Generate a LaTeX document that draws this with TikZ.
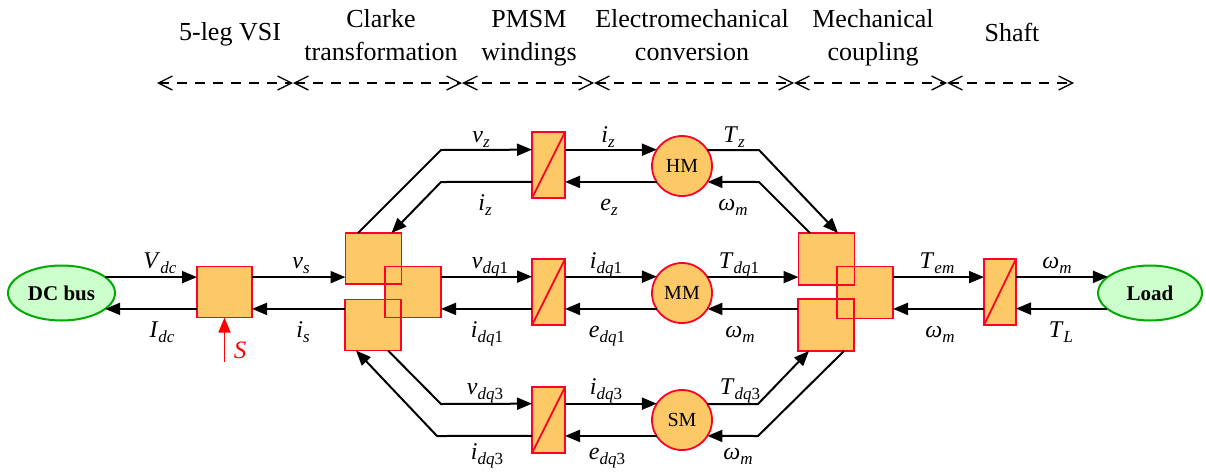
\documentclass[tikz,border=0pt]{standalone}
\usepackage{fontspec}
\setmainfont{Liberation Serif}
\usetikzlibrary{arrows.meta,shapes.geometric,calc}
\definecolor{boxfill}{RGB}{253,201,102}
\definecolor{boxred}{RGB}{255,0,40}
\definecolor{ellfill}{RGB}{204,255,204}
\definecolor{ellgreen}{RGB}{0,170,0}
\newcommand\sbs[1]{\raisebox{-5pt}{\fontsize{17}{17}\selectfont #1}}
\newcommand\lab[2]{\textit{#1}\sbs{#2}}
\begin{document}
\begin{tikzpicture}[x=1pt,y=-1pt,
  arr/.style={line width=2pt,-{Triangle[length=15pt,width=12pt]}},
  sarr/.style={line width=1.6pt,red,-{Triangle[length=15pt,width=12pt]}},
  hdr/.style={line width=1.3pt,dash pattern=on 10pt off 8pt,
    {Straight Barb[length=14pt,width=14pt,line width=1.3pt]}-{Straight Barb[length=14pt,width=14pt,line width=1.3pt]}},
  htxt/.style={font=\fontsize{26}{33}\selectfont,inner sep=0,align=center},
  lbl/.style={font=\fontsize{24}{26}\selectfont,inner sep=0,anchor=base},
  ell/.style={ellipse,draw=ellgreen,fill=ellfill,line width=2pt,minimum width=107pt,minimum height=55pt,inner sep=0,outer sep=0,font=\fontsize{21}{24}\selectfont\bfseries},
  blk/.style={rectangle,draw=boxred,fill=boxfill,line width=1.8pt,inner sep=0,outer sep=0},
  sq/.style={rectangle,fill=boxfill,inner sep=0,outer sep=0,minimum width=56pt,minimum height=51pt},
  sqline/.style={draw=boxred,line width=1.8pt},
  conv/.style={blk,minimum width=33pt,minimum height=66pt},
  mot/.style={circle,draw=boxred,fill=boxfill,line width=1.8pt,minimum size=60pt,inner sep=0,outer sep=0,font=\fontsize{20}{24}\selectfont}]
\useasboundingbox (0,0) rectangle (1206,472);

% header
\coordinate (h0) at (157,83);
\coordinate (h1) at (293,83);
\coordinate (h2) at (462,83);
\coordinate (h3) at (594,83);
\coordinate (h4) at (794,83);
\coordinate (h5) at (947,83);
\coordinate (h6) at (1074,83);
\draw[hdr] (h0) -- (h1);
\draw[hdr] (h1) -- (h2);
\draw[hdr] (h2) -- (h3);
\draw[hdr] (h3) -- (h4);
\draw[hdr] (h4) -- (h5);
\draw[hdr] (h5) -- (h6);
\node[htxt] (t1) at (230,34) {5-leg VSI};
\node[htxt] (t2) at (381,35.5) {Clarke\\transformation};
\node[htxt] (t3) at (529,38) {PMSM\\windings};
\node[htxt] (t4) at (692,35.5) {Electromechanical\\conversion};
\node[htxt] (t5) at (873,38) {Mechanical\\coupling};
\node[htxt] (t6) at (1012,32) {Shaft};

% nodes
\node[ell] (dcbus) at (61.5,293) {DC bus};
\node[ell,minimum width=104pt] (load) at (1150,293) {Load};
\node[blk,minimum width=55pt,minimum height=51pt] (inv) at (224.5,292) {};

\node[sq] (c1) at (373.5,258.5) {};
\node[sq] (c2) at (413,292) {};
\node[sq] (c3) at (373,325) {};
\draw[sqline] (c1.south west) rectangle (c1.north east);
\draw[sqline] (c2.south west) rectangle (c2.north east);
\draw[sqline] (c3.south west) rectangle (c3.north east);

\node[sq,minimum height=52pt] (m1) at (826.5,259) {};
\node[sq,minimum height=52pt] (m2) at (865,292.5) {};
\node[sq,minimum height=52pt] (m3) at (826,325) {};
\draw[sqline] (m1.south west) rectangle (m1.north east);
\draw[sqline] (m2.south west) rectangle (m2.north east);
\draw[sqline] (m3.south west) rectangle (m3.north east);

\node[conv] (conv1) at (548.5,165) {};
\node[conv] (conv2) at (548.5,292) {};
\node[conv] (conv3) at (548.5,420) {};
\node[conv,minimum width=32pt] (shaft) at (1000,292) {};
\foreach \n in {conv1,conv2,conv3,shaft}
  \draw[sqline] (\n.south west) -- (\n.north east);

\node[mot] (HM) at (682,166) {HM};
\node[mot] (MM) at (682,293) {MM};
\node[mot] (SM) at (682,420) {SM};

% middle row
\draw[arr] (dcbus.20) -- (dcbus.20 -| inv.west);
\draw[arr] (dcbus.-20 -| inv.west) -- (dcbus.-20);
\draw[arr] (inv.east |- dcbus.20) -- (c1.west |- dcbus.20);
\draw[arr] (c3.west |- dcbus.-20) -- (inv.east |- dcbus.-20);
\draw[arr] (c2.east |- MM.147.8) -- (conv2.west |- MM.147.8);
\draw[arr] (conv2.west |- MM.212.2) -- (c2.east |- MM.212.2);
\draw[arr] (conv2.east |- MM.147.8) -- (MM.147.8);
\draw[arr] (MM.212.2) -- (conv2.east |- MM.212.2);
\draw[arr] (MM.32.2) -- (m1.west |- MM.32.2);
\draw[arr] (m3.west |- MM.-32.2) -- (MM.-32.2);
\draw[arr] (m2.east |- MM.32.2) -- (shaft.west |- MM.32.2);
\draw[arr] (shaft.west |- MM.-32.2) -- (m2.east |- MM.-32.2);
\draw[arr] (shaft.east |- load.159.3) -- (load.159.3);
\draw[arr] (load.200.7) -- (shaft.east |- load.200.7);

% top row
\draw[arr] ([xshift=-15.5pt]c1.north) -- (441,150) -- (conv1.west |- HM.147.8);
\draw[arr] (conv1.west |- HM.212.2) -- (441,182) -- ([xshift=18pt]c1.north);
\draw[arr] (conv1.east |- HM.147.8) -- (HM.147.8);
\draw[arr] (HM.212.2) -- (conv1.east |- HM.212.2);
\draw[arr] (HM.32.2) -- (759,150) -- ([xshift=11.5pt]m1.north);
\draw[arr] ([xshift=-16.5pt]m1.north) -- (759,182) -- (HM.-32.2);

% bottom row
\draw[arr] ([xshift=15pt]c3.south) -- (441,404) -- (conv3.west |- SM.147.8);
\draw[arr] (conv3.west |- SM.212.2) -- (437,436) -- ([xshift=-17pt]c3.south);
\draw[arr] (conv3.east |- SM.147.8) -- (SM.147.8);
\draw[arr] (SM.212.2) -- (conv3.east |- SM.212.2);
\draw[arr] (SM.32.2) -- (758,404) -- ([xshift=-17pt]m3.south);
\draw[arr] ([xshift=18pt]m3.south) -- (758,436) -- (SM.-32.2);

% switching signal
\coordinate (sfoot) at (224.5,362);
\draw[sarr] (sfoot) -- (inv.south);
\node[lbl,red,font=\fontsize{25}{26}\selectfont] (lS) at (240,358) {\textit{S}};

% labels middle
\node[lbl] (lVdc) at (160,268) {\lab{V}{\textit{dc}}};
\node[lbl] (lIdc) at (162,337) {\lab{I}{\textit{dc}}};
\node[lbl] (lvs) at (301,268) {\lab{v}{\textit{s}}};
\node[lbl] (lis) at (303,337) {\lab{i}{\textit{s}}};
\node[lbl] (lvdq1) at (490,268) {\lab{v}{\textit{dq}1}};
\node[lbl] (lidq1a) at (606,268) {\lab{i}{\textit{dq}1}};
\node[lbl] (lidq1b) at (487,337) {\lab{i}{\textit{dq}1}};
\node[lbl] (ledq1) at (607,337) {\lab{e}{\textit{dq}1}};
\node[lbl] (lTdq1) at (739,268) {\lab{T}{\textit{dq}1}};
\node[lbl] (lwm2) at (740,337) {\lab{ω}{\textit{m}}};
\node[lbl] (lTem) at (937,268) {\lab{T}{\textit{em}}};
\node[lbl] (lwm3) at (940,337) {\lab{ω}{\textit{m}}};
\node[lbl] (lwm4) at (1057,268) {\lab{ω}{\textit{m}}};
\node[lbl] (lTL) at (1061,337) {\lab{T}{\textit{L}}};

% labels top
\node[lbl] (lvz) at (481,142) {\lab{v}{\textit{z}}};
\node[lbl] (liza) at (608,142) {\lab{i}{\textit{z}}};
\node[lbl] (lizb) at (485,210) {\lab{i}{\textit{z}}};
\node[lbl] (lez) at (609,210) {\lab{e}{\textit{z}}};
\node[lbl] (lTz) at (734,142) {\lab{T}{\textit{z}}};
\node[lbl] (lwm1) at (733,210) {\lab{ω}{\textit{m}}};

% labels bottom
\node[lbl] (lvdq3) at (485,394) {\lab{v}{\textit{dq}3}};
\node[lbl] (lidq3a) at (606,394) {\lab{i}{\textit{dq}3}};
\node[lbl] (lidq3b) at (487,459) {\lab{i}{\textit{dq}3}};
\node[lbl] (ledq3) at (607,459) {\lab{e}{\textit{dq}3}};
\node[lbl] (lTdq3) at (740,394) {\lab{T}{\textit{dq}3}};
\node[lbl] (lwm5) at (738,459) {\lab{ω}{\textit{m}}};
\end{tikzpicture}
\end{document}
